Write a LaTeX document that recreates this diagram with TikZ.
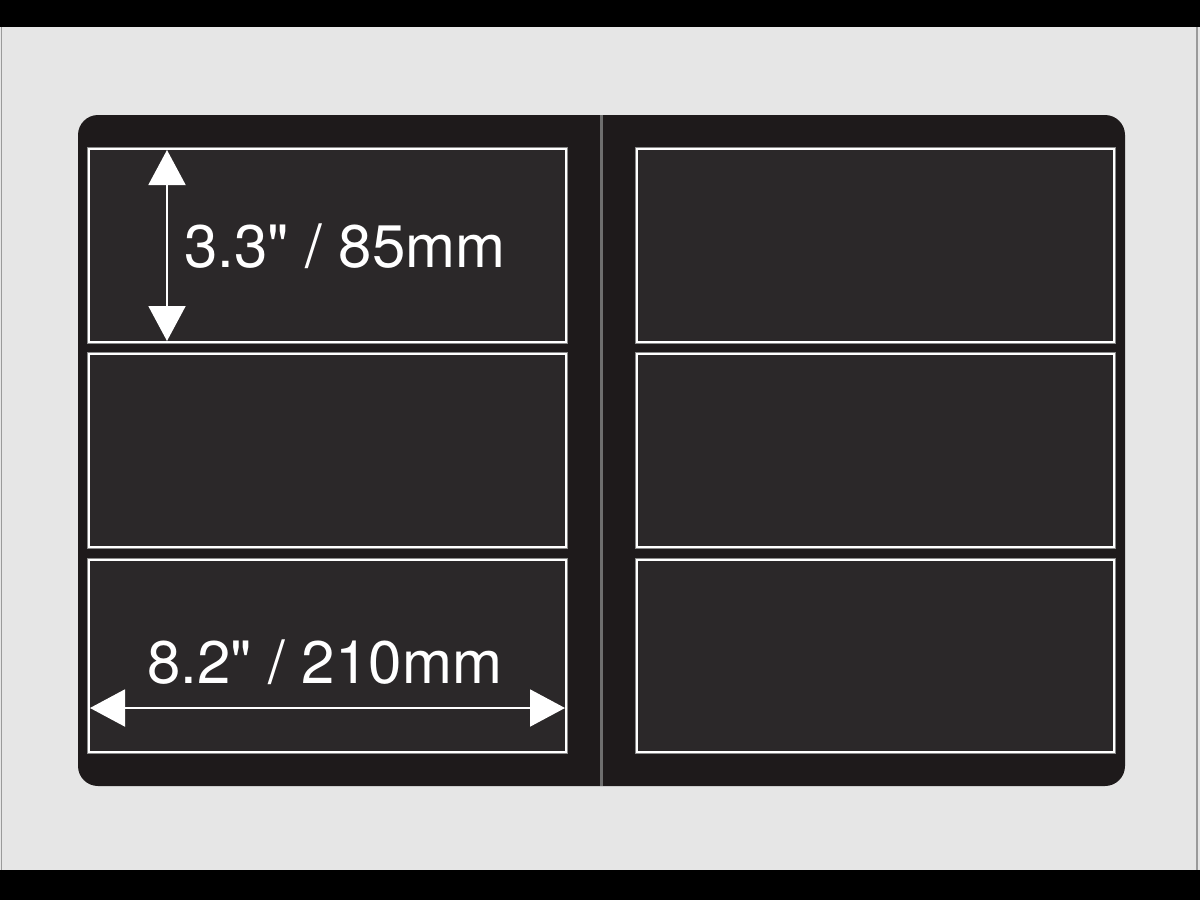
\documentclass[tikz,border=0pt]{standalone}
\usepackage{fontspec}
\setmainfont{TeX Gyre Heros}
\newfontfamily\dimfont{TeX Gyre Heros}
\usetikzlibrary{arrows.meta}
\definecolor{bgray}{HTML}{E6E6E6}
\definecolor{edgegray}{HTML}{9A9A9A}
\definecolor{panel}{HTML}{1E1A1B}
\definecolor{slot}{HTML}{2B2829}
\definecolor{divider}{HTML}{6E6E6E}
\definecolor{halo}{HTML}{8A8A8A}
\tikzset{
  slotbox/.style={draw=white, fill=slot, line width=2.4pt},
  halobox/.style={draw=halo, line width=4.5pt},
  dimarrow/.style={draw=white, line width=2pt, {Triangle[length=35pt,width=37pt]}-{Triangle[length=35pt,width=37pt]}},
  dimlabel/.style={text=white, font=\dimfont\fontsize{60}{60}\selectfont, inner sep=0pt, anchor=base west}
}
\begin{document}
\begin{tikzpicture}[x=1pt,y=-1pt]
\useasboundingbox (0,0) rectangle (1200,900);
% background
\fill[bgray] (0,0) rectangle (1200,900);
\draw[edgegray, line width=1.5pt] (1.5,27) -- (1.5,870);
\draw[edgegray, line width=1.5pt] (1197,27) -- (1197,870);
\fill[black] (0,0) rectangle (1200,27);
\fill[black] (0,870) rectangle (1200,900);
% panel
\fill[panel, rounded corners=20pt] (78,115) rectangle (1125,786);
\coordinate (divtop) at (601,115);
\coordinate (divbot) at (601,786);
\draw[divider, line width=3pt] (divtop) -- (divbot);
% slots
\foreach \n/\xa/\xb/\ya/\yb in {L1/89/566/149/342, L2/89/566/354/547, L3/89/566/560/752,
                               R1/637/1114/149/342, R2/637/1114/354/547, R3/637/1114/560/752}{
  \draw[halobox] (\xa,\ya) rectangle (\xb,\yb);
  \draw[slotbox] (\xa,\ya) rectangle (\xb,\yb);
  \coordinate (\n-nw) at (\xa,\ya);
  \coordinate (\n-se) at (\xb,\yb);
}
% vertical dimension
\coordinate (vtop) at (167,150);
\coordinate (vbot) at (167,341);
\draw[dimarrow] (vtop) -- (vbot);
\node[dimlabel] (vlabel) at (184,267) {3.3" / 85mm};
% horizontal dimension
\coordinate (hleft) at (90,708);
\coordinate (hright) at (565,708);
\draw[dimarrow] (hleft) -- (hright);
\node[dimlabel] (hlabel) at (147,683) {8.2" / 210mm};
\end{tikzpicture}
\end{document}
